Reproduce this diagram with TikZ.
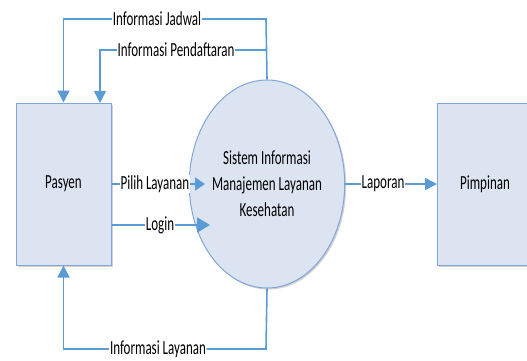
\documentclass[tikz,border=0pt]{standalone}
\usepackage{fontspec}
\setmainfont{Carlito}[FakeStretch=0.65]
\usetikzlibrary{arrows.meta,shapes.geometric,shadows}
\definecolor{flowblue}{HTML}{5B9BD5}
\definecolor{edgeblue}{HTML}{7FA7D9}
\definecolor{boxfill}{HTML}{DCE4F2}
\tikzset{
  entity/.style={draw=edgeblue, line width=1pt, fill=boxfill, rectangle,
    minimum width=95pt, minimum height=162pt, inner sep=0pt,
    drop shadow={shadow xshift=1.5pt, shadow yshift=-1.5pt, fill=black, opacity=0.18},
    font=\fontsize{20}{26}\selectfont},
  process/.style={draw=edgeblue, line width=1pt, fill=boxfill, ellipse,
    minimum width=124pt, minimum height=208pt, inner sep=0pt, align=center,
    drop shadow={shadow xshift=1.5pt, shadow yshift=-1.5pt, fill=black, opacity=0.18},
    font=\fontsize{20}{26}\selectfont},
  flow/.style={draw=flowblue, line width=1.6pt, -{Triangle[width=12pt,length=12pt]}},
  lbl/.style={fill=white, inner sep=0.5pt, font=\fontsize{20}{24}\selectfont}
}
\begin{document}
\begin{tikzpicture}[x=1pt,y=-1pt]
  \useasboundingbox (0,0) rectangle (527,360);

  % external entities and the process
  \node[entity] (pasyen) at (63.5,184) {Pasyen};
  \node[entity] (pimpinan) at (485,184) {Pimpinan};
  \node[process] (sim) at (267,184) {Sistem Informasi\\Manajemen Layanan\\Kesehatan};

  % turning points and ends of the routed flows
  \coordinate (jadwalTurn) at (266,19);
  \coordinate (daftarTurn) at (266,50);
  \coordinate (layananTurn) at (266,349);
  \coordinate (daftarIn) at (100,103);
  \coordinate (pilihIn) at (205,184);
  \coordinate (loginIn) at (210,225);
  \coordinate (loginOut) at (pasyen.east |- loginIn);

  % flow labels
  \node[lbl] (lJadwal) at (157,19) {Informasi Jadwal};
  \node[lbl] (lDaftar) at (176,50) {Informasi Pendaftaran};
  \node[lbl, anchor=east] (lPilih) at (190,184) {Pilih Layanan};
  \node[lbl] (lLogin) at (160,225) {Login};
  \node[lbl] (lLapor) at (383,184) {Laporan};
  \node[lbl] (lLayanan) at (158,349) {Informasi Layanan};

  % data flows, interrupted by their labels
  \draw[flow, -] (sim.north) -- (jadwalTurn) -- (lJadwal.east);
  \draw[flow] (lJadwal.west) -| (pasyen.north);
  \draw[flow, -] (daftarTurn) -- (lDaftar.east);
  \draw[flow] (lDaftar.west) -| (daftarIn);
  \draw[flow, -] (sim.south) -- (layananTurn) -- (lLayanan.east);
  \draw[flow] (lLayanan.west) -| (pasyen.south);
  \draw[flow, -] (pasyen.east) -- (lPilih.west);
  \draw[flow, -{Triangle[width=13pt,length=10pt]}] (lPilih.east) -- (pilihIn);
  \draw[flow, -, line width=2.4pt] (loginOut) -- (lLogin.west);
  \draw[flow, line width=2.4pt, -{Triangle[width=15pt,length=13pt]}]
    (lLogin.east) -- (loginIn);
  \draw[flow, -] (sim.east) -- (lLapor.west);
  \draw[flow] (lLapor.east) -- (pimpinan.west);
\end{tikzpicture}
\end{document}
